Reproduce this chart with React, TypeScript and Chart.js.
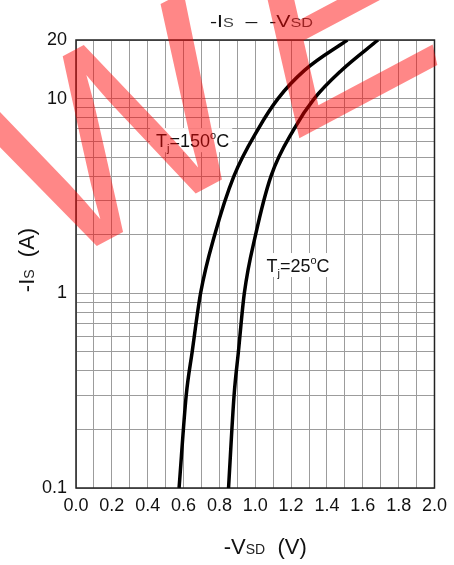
import React, { useEffect, useRef } from 'react';
import { Chart, registerables } from 'chart.js';

Chart.register(...registerables);

// ---- data ----
const V_150 = [0.575, 0.615, 0.648, 0.695, 0.774, 0.881, 1.017, 1.127, 1.276, 1.514];
const I_150 = [0.1, 0.3, 0.5, 1, 2, 4, 7, 10, 14, 20];

const V_25 = [0.851, 0.882, 0.906, 0.939, 1.002, 1.088, 1.217, 1.329, 1.482, 1.685];
const I_25 = [0.1, 0.3, 0.5, 1, 2, 4, 7, 10, 14, 20];

const X_GRID = [0, 0.1, 0.2, 0.3, 0.4, 0.5, 0.6, 0.7, 0.8, 0.9, 1.0, 1.1, 1.2, 1.3, 1.4, 1.5, 1.6, 1.7, 1.8, 1.9, 2.0];
const X_TICK_LABELS = ['0.0', '0.2', '0.4', '0.6', '0.8', '1.0', '1.2', '1.4', '1.6', '1.8', '2.0'];

const Y_GRID = [0.1, 0.2, 0.3, 0.4, 0.5, 0.6, 0.7, 0.8, 0.9, 1, 2, 3, 4, 5, 6, 7, 8, 9, 10, 20];
const Y_TICK_VALUES = [0.1, 1, 10, 20];
const Y_TICK_LABELS = ['0.1', '1', '10', '20'];

// curve label anchors (data coordinates: V, I at text baseline-left)
const LABEL_150 = { v: 0.447, i: 5.63, temp: '150' };
const LABEL_25 = { v: 1.0625, i: 1.286, temp: '25' };

const FONT = '"Liberation Sans", Arial, Helvetica, sans-serif';
const TEXT = '#111';

type Seg = { t: string; size: number; dy?: number; color?: string };

function segWidth(ctx: CanvasRenderingContext2D, segs: Seg[]) {
  let w = 0;
  for (const s of segs) {
    ctx.font = `${s.size}px ${FONT}`;
    w += ctx.measureText(s.t).width;
  }
  return w;
}

function drawSegs(ctx: CanvasRenderingContext2D, segs: Seg[], x: number, y: number) {
  let cx = x;
  ctx.textBaseline = 'alphabetic';
  ctx.textAlign = 'left';
  for (const s of segs) {
    ctx.font = `${s.size}px ${FONT}`;
    ctx.fillStyle = s.color || TEXT;
    ctx.fillText(s.t, cx, y + (s.dy || 0));
    cx += ctx.measureText(s.t).width;
  }
}

const framePlugin = {
  id: 'frame',
  beforeDatasetsDraw(chart: any) {
    const { ctx, chartArea: a } = chart;
    ctx.save();
    ctx.strokeStyle = '#222';
    ctx.lineWidth = 1.5;
    ctx.strokeRect(a.left, a.top, a.right - a.left, a.bottom - a.top);

    // curve labels with white boxes
    const xs = chart.scales.x;
    const ys = chart.scales.y;
    for (const L of [LABEL_150, LABEL_25]) {
      const px = xs.getPixelForValue(L.v);
      const py = ys.getPixelForValue(L.i);
      const segs: Seg[] = [
        { t: 'T', size: 18 },
        { t: 'j', size: 11, dy: 5 },
        { t: '=' + L.temp, size: 18 },
        { t: 'o', size: 11, dy: -8 },
        { t: 'C', size: 18 },
      ];
      const w = segWidth(ctx, segs);
      ctx.fillStyle = '#fff';
      ctx.fillRect(px - 6, py - 19, w + 9, 24);
      drawSegs(ctx, segs, px, py);
    }
    ctx.restore();
  },
};

const titlePlugin = {
  id: 'titles',
  afterDraw(chart: any) {
    const { ctx, chartArea: a } = chart;
    ctx.save();
    // top title (horizontally widened like the reference)
    const t: Seg[] = [
      { t: '-I', size: 17 },
      { t: 'S', size: 13, color: '#444' },
      { t: '  \u2013  ', size: 17 },
      { t: '-V', size: 17 },
      { t: 'SD', size: 13, color: '#444' },
    ];
    const sx = 1.25;
    const tw = segWidth(ctx, t) * sx;
    ctx.save();
    ctx.translate(261.5 - tw / 2, 27);
    ctx.scale(sx, 1);
    drawSegs(ctx, t, 0, 0);
    ctx.restore();

    // x axis title
    const xt: Seg[] = [
      { t: '-V', size: 22 },
      { t: 'SD', size: 14, color: '#222' },
      { t: '  (V)', size: 22 },
    ];
    const xw = segWidth(ctx, xt);
    drawSegs(ctx, xt, (a.left + a.right) / 2 + 10 - xw / 2, 554);

    // y axis title
    const yt: Seg[] = [
      { t: '-I', size: 22 },
      { t: 'S', size: 14, color: '#222' },
      { t: '  (A)', size: 22 },
    ];
    const yw = segWidth(ctx, yt);
    ctx.translate(34, 260);
    ctx.rotate(-Math.PI / 2);
    drawSegs(ctx, yt, -yw / 2, 0);
    ctx.restore();
  },
};

// watermark (semi-transparent red letters, rotated); each letter with its own
// offset along the baseline, horizontal stretch and slant
const WM_LETTERS = ['W', 'E'];
const WM_SHIFT = [0, 9];
const WM_STRETCH = [1, 1.08];
const WM_SLANT = [0, 0.27];
const WM_COLOR = 'rgba(255, 0, 0, 0.47)';
const WM_SIZE = 267;
const WM_ANGLE = -28;
const WM_X = 48;
const WM_Y = 272;

const watermarkPlugin = {
  id: 'watermark',
  afterDraw(chart: any) {
    const ctx = chart.ctx;
    ctx.save();
    ctx.fillStyle = WM_COLOR;
    ctx.translate(WM_X, WM_Y);
    ctx.rotate((WM_ANGLE * Math.PI) / 180);
    ctx.font = `${WM_SIZE}px ${FONT}`;
    ctx.textBaseline = 'alphabetic';
    ctx.textAlign = 'left';
    let pos = 0;
    WM_LETTERS.forEach((ch, k) => {
      ctx.save();
      ctx.translate(pos + WM_SHIFT[k], 0);
      ctx.transform(WM_STRETCH[k], 0, -WM_SLANT[k], 1, 0, 0);
      ctx.fillText(ch, 0, 0);
      ctx.restore();
      pos += ctx.measureText(ch).width;
    });
    ctx.restore();
  },
};

export default function App() {
  const ref = useRef<HTMLCanvasElement | null>(null);

  useEffect(() => {
    if (!ref.current) return;
    const chart = new Chart(ref.current, {
      type: 'line',
      data: {
        datasets: [
          {
            label: 'Tj=150°C',
            data: V_150.map((v, k) => ({ x: v, y: I_150[k] })),
            borderColor: '#000',
            borderWidth: 3.5,
            pointRadius: 0,
            cubicInterpolationMode: 'monotone',
            fill: false,
          },
          {
            label: 'Tj=25°C',
            data: V_25.map((v, k) => ({ x: v, y: I_25[k] })),
            borderColor: '#000',
            borderWidth: 3.5,
            pointRadius: 0,
            cubicInterpolationMode: 'monotone',
            fill: false,
          },
        ],
      },
      options: {
        responsive: false,
        animation: false,
        devicePixelRatio: 1,
        layout: { padding: { top: 40, right: 16, left: 0, bottom: 0 } },
        plugins: {
          legend: { display: false },
          title: { display: false },
          tooltip: { enabled: false },
        },
        scales: {
          x: {
            type: 'linear',
            min: 0,
            max: 2,
            afterBuildTicks: (s: any) => {
              s.ticks = X_GRID.map((v) => ({ value: v }));
            },
            afterFit: (s: any) => {
              s.height = 77;
            },
            ticks: {
              autoSkip: false,
              maxRotation: 0,
              padding: 7,
              color: TEXT,
              font: { family: FONT, size: 18 },
              callback: (_v: any, index: number) => (index % 2 === 0 ? X_TICK_LABELS[index / 2] : ''),
            },
            grid: { color: '#9c9c9c', lineWidth: 1, drawTicks: false },
            border: { display: false },
          },
          y: {
            type: 'logarithmic',
            min: 0.1,
            max: 20,
            afterBuildTicks: (s: any) => {
              s.ticks = Y_GRID.map((v) => ({ value: v }));
            },
            afterFit: (s: any) => {
              s.width = 76;
            },
            ticks: {
              autoSkip: false,
              padding: 9,
              color: TEXT,
              font: { family: FONT, size: 18 },
              callback: (v: any) => {
                const k = Y_TICK_VALUES.findIndex((t) => Math.abs(t - v) < 1e-9);
                return k >= 0 ? Y_TICK_LABELS[k] : '';
              },
            },
            grid: { color: '#9c9c9c', lineWidth: 1, drawTicks: false },
            border: { display: false },
          },
        },
      },
      plugins: [framePlugin, titlePlugin, watermarkPlugin],
    } as any);
    return () => chart.destroy();
  }, []);

  return (
    <div style={{ position: 'absolute', left: 0, top: 0, width: 454, height: 565, background: '#fff' }}>
      <canvas ref={ref} width={454} height={565} style={{ display: 'block' }} />
    </div>
  );
}
